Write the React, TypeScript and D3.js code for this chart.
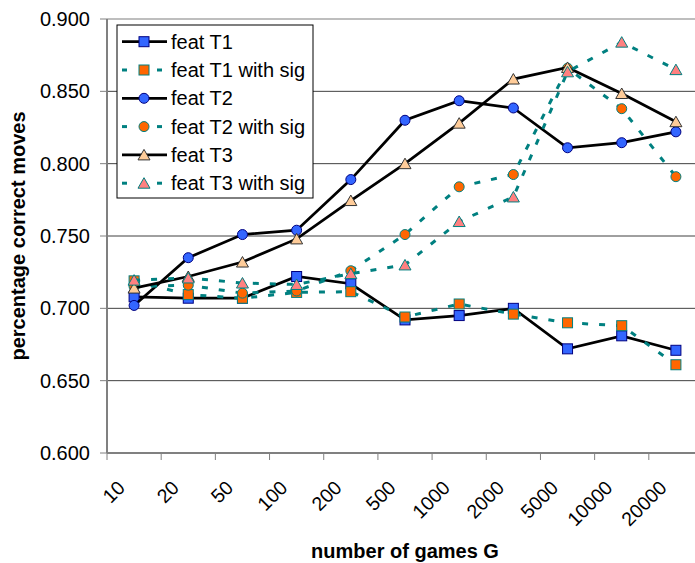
import React from "react";
import * as d3 from "d3";

const categories = ["10", "20", "50", "100", "200", "500", "1000", "2000", "5000", "10000", "20000"];
const featT1 = [0.708, 0.707, 0.707, 0.722, 0.717, 0.692, 0.695, 0.700, 0.672, 0.681, 0.671];
const featT1Sig = [0.719, 0.7095, 0.707, 0.711, 0.7115, 0.694, 0.703, 0.696, 0.690, 0.688, 0.661];
const featT2 = [0.702, 0.735, 0.751, 0.754, 0.789, 0.830, 0.8435, 0.8385, 0.811, 0.8145, 0.822];
const featT2Sig = [0.715, 0.716, 0.7105, 0.712, 0.726, 0.751, 0.784, 0.7925, 0.866, 0.838, 0.791];
const featT3 = [0.714, 0.722, 0.732, 0.748, 0.7745, 0.800, 0.828, 0.8585, 0.8665, 0.8485, 0.829];
const featT3Sig = [0.7195, 0.721, 0.7175, 0.7165, 0.724, 0.730, 0.760, 0.777, 0.8635, 0.884, 0.865];
const yTicks = [0.6, 0.65, 0.7, 0.75, 0.8, 0.85, 0.9];

const seriesNames = ["feat T1", "feat T1 with sig", "feat T2", "feat T2 with sig", "feat T3", "feat T3 with sig"];

type Style = { values: number[]; dashed: boolean; shape: string; fill: string; stroke: string };
const series: Style[] = [
  { values: featT1, dashed: false, shape: "square", fill: "#3366FF", stroke: "#000080" },
  { values: featT1Sig, dashed: true, shape: "square", fill: "#FF6600", stroke: "#008080" },
  { values: featT2, dashed: false, shape: "circle", fill: "#3366FF", stroke: "#000080" },
  { values: featT2Sig, dashed: true, shape: "circle", fill: "#FF6600", stroke: "#008080" },
  { values: featT3, dashed: false, shape: "triangle", fill: "#FFCC99", stroke: "#333333" },
  { values: featT3Sig, dashed: true, shape: "triangle", fill: "#FF8080", stroke: "#008080" },
];

const FONT = "'Liberation Sans', Arial, Helvetica, sans-serif";
const W = 695, H = 563;
const L = 107, R = 703, T = 19, B = 453;

function Marker({ shape, cx, cy, fill, stroke }: { shape: string; cx: number; cy: number; fill: string; stroke: string }) {
  if (shape === "square") return <rect x={cx - 5} y={cy - 5} width={10} height={10} fill={fill} stroke={stroke} strokeWidth={1} />;
  if (shape === "circle") return <circle cx={cx} cy={cy} r={5} fill={fill} stroke={stroke} strokeWidth={1} />;
  const pts = [[cx, cy - 5.5], [cx + 6, cy + 5], [cx - 6, cy + 5]].map((p) => p.join(",")).join(" ");
  return <polygon points={pts} fill={fill} stroke={stroke} strokeWidth={1} />;
}

export default function App() {
  const x = d3.scaleBand<string>().domain(categories).range([L, R]).padding(0);
  const y = d3.scaleLinear().domain([0.6, 0.9]).range([B, T]);
  const cx = (c: string) => (x(c) as number) + x.bandwidth() / 2;
  const line = d3.line<number>().x((_, i) => cx(categories[i])).y((v) => y(v));
  const tickBounds = categories.map((c) => x(c) as number);

  return (
    <svg width={W} height={H} style={{ position: "absolute", left: 0, top: 0, background: "#fff" }} fontFamily={FONT}>
      <rect x={0} y={0} width={W} height={H} fill="#fff" />
      {yTicks.filter((t) => t > 0.6).map((t) => (
        <line key={t} x1={L} x2={W} y1={y(t)} y2={y(t)} stroke={t === 0.9 ? "#a8a8a8" : "#404040"} strokeWidth={t === 0.9 ? 1.5 : 1} />
      ))}
      <line x1={L} x2={L} y1={T} y2={B} stroke="#808080" strokeWidth={2} />
      <line x1={L} x2={W} y1={B} y2={B} stroke="#808080" strokeWidth={2} />
      {yTicks.map((t) => (
        <g key={"yt" + t}>
          <line x1={L - 7} x2={L} y1={y(t)} y2={y(t)} stroke="#808080" strokeWidth={1} />
          <text x={90} y={y(t) + 7} textAnchor="end" fontSize={20} fill="#000">{t.toFixed(3)}</text>
        </g>
      ))}
      {tickBounds.map((b, i) => (
        <line key={"xt" + i} x1={b} x2={b} y1={B} y2={B + 7} stroke="#808080" strokeWidth={1} />
      ))}
      {categories.map((c) => (
        <text key={"xl" + c} transform={`translate(${cx(c) - 8},${489}) rotate(-45)`} textAnchor="end" fontSize={19.5} fill="#000">{c}</text>
      ))}
      <text x={(L + R) / 2} y={558} textAnchor="middle" fontSize={20} fontWeight="bold">number of games G</text>
      <text transform={`translate(25,${(T + B) / 2}) rotate(-90)`} textAnchor="middle" fontSize={20} fontWeight="bold">percentage correct moves</text>

      {series.map((s, si) => (
        <g key={"s" + si}>
          <path d={line(s.values) || ""} fill="none" stroke={s.dashed ? "#008080" : "#000"} strokeWidth={s.dashed ? 3 : 2.75} strokeDasharray={s.dashed ? "6 11" : undefined} />
          {s.values.map((v, i) => (
            <Marker key={i} shape={s.shape} cx={cx(categories[i])} cy={y(v)} fill={s.fill} stroke={s.stroke} />
          ))}
        </g>
      ))}

      <rect x={117} y={25} width={196} height={173} fill="#fff" stroke="#000" strokeWidth={1} />
      {seriesNames.map((n, i) => {
        const s = series[i];
        const ly = 41.7 + i * 28.3;
        return (
          <g key={"lg" + i}>
            {s.dashed ? (
              <g>
                <line x1={122} x2={127} y1={ly} y2={ly} stroke="#008080" strokeWidth={3} />
                <line x1={157} x2={162} y1={ly} y2={ly} stroke="#008080" strokeWidth={3} />
              </g>
            ) : (
              <line x1={122} x2={167} y1={ly} y2={ly} stroke="#000" strokeWidth={2.75} />
            )}
            <Marker shape={s.shape} cx={144} cy={ly} fill={s.fill} stroke={s.stroke} />
            <text x={171} y={ly + 7} fontSize={20} fill="#000">{n}</text>
          </g>
        );
      })}
    </svg>
  );
}
